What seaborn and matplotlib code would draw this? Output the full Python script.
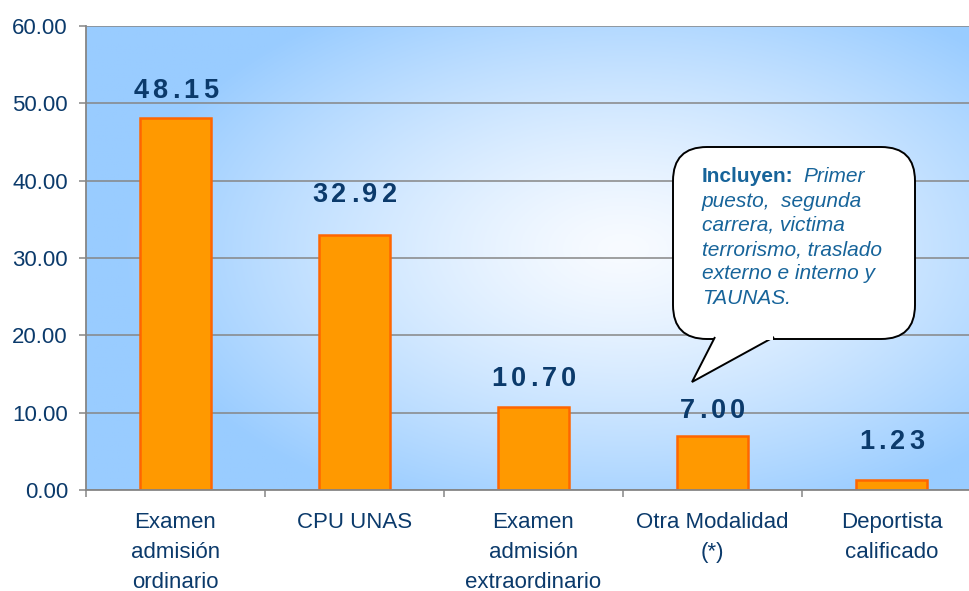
import numpy as np
import pandas as pd
import seaborn as sns
import matplotlib.pyplot as plt
from matplotlib.patches import FancyBboxPatch, Polygon

# datos del grafico
categorias = ["Examen\nadmisión\nordinario", "CPU UNAS", "Examen\nadmisión\nextraordinario",
              "Otra Modalidad\n(*)", "Deportista\ncalificado"]
porcentajes = [48.15, 32.92, 10.70, 7.00, 1.23]
yticks = [0, 10, 20, 30, 40, 50, 60]
nota_titulo = "Incluyen:"
nota_lineas = ["Primer", "puesto,  segunda", "carrera, victima", "terrorismo, traslado",
               "externo e interno y", "TAUNAS."]

W, H = 969, 591
azul_txt = "#0B3A6B"

sns.set_style("white")
plt.rcParams["font.family"] = ["Liberation Sans", "DejaVu Sans"]

fig = plt.figure(figsize=(W / 100, H / 100), dpi=100)
# el area del grafico sigue un poco mas alla del borde derecho
ax = fig.add_axes([86 / W, 1 - 490 / H, 895 / W, (490 - 26) / H])

# fondo con degradado radial
nx, ny = 400, 250
gx, gy = np.meshgrid(np.linspace(0, 1, nx), np.linspace(1, 0, ny))
d = np.sqrt(((gx - 0.60) / 0.56) ** 2 + ((gy - 0.52) / 0.62) ** 2)
t = np.clip(d, 0, 1) ** 1.3
c_in = np.array([248, 251, 255]) / 255
c_out = np.array([153, 204, 255]) / 255
img = c_in[None, None, :] * (1 - t[..., None]) + c_out[None, None, :] * t[..., None]
ax.imshow(img, extent=[-0.5, 4.5, 0, 60], aspect="auto", zorder=0)

df = pd.DataFrame({"cat": categorias, "val": porcentajes})
sns.barplot(data=df, x="cat", y="val", color="#FF9900", edgecolor="#FF6600",
            linewidth=1.8, width=0.40, saturation=1, ax=ax, zorder=3)

# etiquetas de valor con espaciado entre letras
desfase = [14, 24, 15, 13, 23]  # puntos sobre la barra (colocadas a mano en el original)
tam = 19.5
track = 3.0
def avance(ch):
    return (0.278 if ch == "." else 0.556) * tam

for i, v in enumerate(porcentajes):
    s = f"{v:.2f}"
    total = sum(avance(c) for c in s) + track * (len(s) - 1)
    x0 = -total / 2
    for c in s:
        a = avance(c)
        ax.annotate(c, (i, v), xytext=(x0 + a / 2, desfase[i]), textcoords="offset points",
                    ha="center", va="baseline", fontsize=tam, fontweight="bold",
                    color=azul_txt, zorder=5)
        x0 += a + track

ax.set_xlim(-0.5, 4.5)
ax.set_ylim(0, 60)
ax.set_yticks(yticks)
ax.set_yticklabels([f"{y:.2f}" for y in yticks])
ax.yaxis.grid(True, color="#868686", linewidth=1.1, zorder=1)
ax.set_axisbelow(True)
ax.set_xlabel("")
ax.set_ylabel("")

for s in ["top", "right"]:
    ax.spines[s].set_visible(False)
for s in ["left", "bottom"]:
    ax.spines[s].set_color("#868686")
    ax.spines[s].set_linewidth(1.3)
    ax.spines[s].set_zorder(4)

ax.tick_params(axis="y", direction="out", length=5, width=1.1, color="#868686",
               pad=8, labelsize=16, labelcolor=azul_txt, left=True)
ax.tick_params(axis="x", which="major", length=0, pad=16, labelsize=16, labelcolor=azul_txt)
ax.set_xticks(np.arange(-0.5, 4.6, 1), minor=True)
ax.tick_params(axis="x", which="minor", direction="out", length=5, width=1.1,
               color="#868686", bottom=True)
for lab in ax.get_xticklabels():
    lab.set_linespacing(1.57)
    lab.set_va("top")

# globo de nota
def fx(px):
    return px / W

def fy(py):
    return 1 - py / H

caja = FancyBboxPatch((fx(673), fy(339)), fx(915) - fx(673), fy(147) - fy(339),
                      boxstyle="round,pad=0,rounding_size=0.035",
                      transform=fig.transFigure, facecolor="white",
                      edgecolor="black", linewidth=1.4, zorder=6,
                      mutation_aspect=W / H)
fig.add_artist(caja)
cola = Polygon([(fx(715), fy(337)), (fx(692), fy(382)), (fx(774), fy(337))],
               closed=False, transform=fig.transFigure, facecolor="white",
               edgecolor="black", linewidth=1.4, zorder=7)
fig.add_artist(cola)
fig.add_artist(Polygon([(fx(716), fy(336)), (fx(773), fy(336)), (fx(773), fy(340)), (fx(716), fy(340))],
                       transform=fig.transFigure, facecolor="white", edgecolor="none", zorder=8))

col_nota = "#17649A"
fig.text(fx(702), fy(177), nota_titulo, fontsize=15, fontweight="bold", color=col_nota,
         va="center", ha="left", zorder=9)
for k, linea in enumerate(nota_lineas):
    x0 = 803 if k == 0 else 702
    fig.text(fx(x0), fy(177 + 24.2 * k), linea, fontsize=15, fontstyle="italic",
             color=col_nota, va="center", ha="left", zorder=9)

fig.savefig("out.png", dpi=100)
